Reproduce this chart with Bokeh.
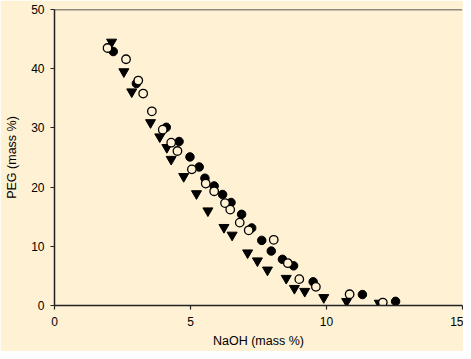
from bokeh.plotting import figure
from bokeh.models import Span, FixedTicker
from bokeh.embed import file_html
from bokeh.resources import INLINE

# Series 1: filled circles
fc_x = [2.16, 3.01, 4.11, 4.58, 4.98, 5.32, 5.53, 5.87, 6.18, 6.49, 6.88, 7.25, 7.62, 7.97, 8.38, 8.79, 9.51, 11.32, 12.54]
fc_y = [42.9, 37.5, 30.1, 27.7, 25.1, 23.4, 21.5, 20.2, 18.75, 17.4, 15.4, 13.1, 11.0, 9.2, 7.8, 6.7, 4.0, 1.85, 0.7]

# Series 2: open circles
oc_x = [1.95, 2.63, 3.08, 3.26, 3.58, 3.98, 4.29, 4.52, 5.05, 5.56, 5.87, 6.27, 6.46, 6.81, 7.14, 8.06, 8.58, 9.0, 9.61, 10.85, 12.07]
oc_y = [43.5, 41.6, 38.0, 35.8, 32.8, 29.7, 27.5, 26.1, 23.0, 20.6, 19.3, 17.3, 16.2, 14.0, 12.7, 11.1, 7.15, 4.45, 3.15, 1.9, 0.5]

# Series 3: filled inverted triangles
tr_x = [2.1, 2.55, 2.84, 3.53, 3.87, 4.13, 4.29, 4.75, 5.22, 5.64, 6.23, 6.53, 7.10, 7.46, 7.83, 8.52, 8.82, 9.2, 9.9, 10.74, 11.94]
tr_y = [44.5, 39.5, 36.1, 30.9, 28.5, 26.7, 24.7, 21.8, 18.9, 16.0, 13.2, 11.9, 8.9, 7.55, 6.0, 4.6, 2.9, 2.4, 1.35, 0.7, 0.4]

x_ticks = [0, 5, 10, 15]
y_ticks = [0, 10, 20, 30, 40, 50]

BG = "#FEF1D4"
FONT = "Liberation Sans"

p = figure(width=463, height=351, x_range=(0, 15), y_range=(0, 50),
           output_backend="svg", toolbar_location=None,
           min_border_left=54, min_border_right=1, min_border_top=9, min_border_bottom=46)
p.background_fill_color = BG
p.border_fill_color = BG
p.outline_line_color = None
p.grid.visible = False

for ax in (p.xaxis, p.yaxis):
    ax.axis_line_color = "#222222"
    ax.axis_line_width = 1.5
    ax.major_tick_line_color = "#222222"
    ax.major_tick_line_width = 1.2
    ax.major_tick_in = 0
    ax.major_tick_out = 4
    ax.minor_tick_line_color = None
    ax.major_label_text_font = FONT
    ax.major_label_text_font_size = "12px"
    ax.major_label_text_color = "#000000"
    ax.axis_label_text_font = FONT
    ax.axis_label_text_font_size = "12.5px"
    ax.axis_label_text_font_style = "normal"
    ax.axis_label_text_color = "#000000"

p.xaxis.ticker = FixedTicker(ticks=x_ticks)
p.yaxis.ticker = FixedTicker(ticks=y_ticks)
p.xaxis.axis_label = "NaOH (mass %)"
p.yaxis.axis_label = "PEG (mass %)"
p.xaxis.major_label_standoff = 7
p.yaxis.major_label_standoff = 6
p.xaxis.axis_label_standoff = 5
p.yaxis.axis_label_standoff = 9

p.add_layout(Span(location=50, dimension="width", line_color="#222222", line_width=1.5))

p.scatter(tr_x, tr_y, marker="inverted_triangle", size=10, fill_color="black", line_color="black")
p.scatter(fc_x, fc_y, marker="circle", size=8.5, fill_color="black", line_color="black")
p.scatter(oc_x, oc_y, marker="circle", size=8.5, fill_color=BG, line_color="black", line_width=1.3)

open("out.html", "w").write(file_html(p, INLINE))
